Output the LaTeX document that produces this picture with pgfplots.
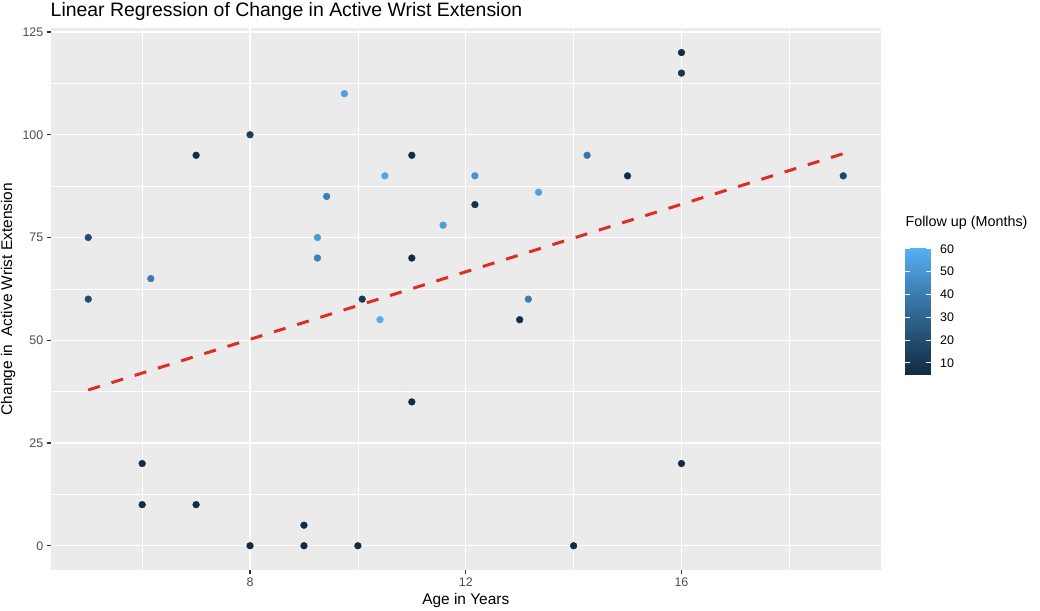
\documentclass[border=0pt]{standalone}
\usepackage{pgfplots}
\usepackage{pgfplotstable}
\pgfplotsset{compat=1.18}
\usepackage{fontspec}
\setmainfont{Liberation Sans}

\definecolor{panelbg}{RGB}{235,235,235}
\definecolor{tickgray}{RGB}{77,77,77}
\definecolor{tickmark}{RGB}{51,51,51}
\definecolor{regred}{RGB}{222,45,38}

\pgfplotsset{
  colormap={gg}{rgb255(0cm)=(19,43,67) rgb255(1cm)=(34,73,108) rgb255(2cm)=(51,106,152) rgb255(3cm)=(68,141,198) rgb255(4cm)=(86,177,247)},
}

\pgfplotstableread{
x y f
5 75 20
5 60 20
6.16 65 40
7 95 5
8 100 13
9.75 110 54
10.5 90 56
9.42 85 41
9.25 75 52
9.25 70 42
11 95 5
11 70 5
12.17 90 50
12.17 83 8
11.58 78 53
10.08 60 11
10.41 55 59
6 20 5
6 10 5
7 10 5
8 0 5
9 5 5
9 0 5
10 0 5
11 35 5
13 55 6
13.16 60 40
13.35 86 54
14.25 95 37
15 90 5
14 0 5
16 20 6
16 120 5
16 115 10
19 90 18
}\datatable

\pgfplotstableread{
x y
5 37.9
19 95.4
}\regline

\begin{document}
\begin{tikzpicture}
\useasboundingbox (0,0) rectangle (1040bp,611bp);
\begin{axis}[
  at={(50.5bp,40.6bp)}, anchor=south west,
  scale only axis, width=830.5bp, height=542.5bp,
  xmin=4.3, xmax=19.7, ymin=-6, ymax=126,
  xtick={8,12,16}, ytick={0,25,50,75,100,125},
  minor xtick={6,10,14,18}, minor ytick={12.5,37.5,62.5,87.5,112.5},
  grid=both,
  major grid style={white, line width=1.2bp},
  minor grid style={white, line width=0.6bp},
  axis background/.style={fill=panelbg},
  axis line style={draw=none},
  tick align=outside, major tick length=4bp, minor tick length=0pt,
  xtick pos=left, ytick pos=left,
  tick style={color=tickmark, line width=1.1bp},
  /pgf/number format/assume math mode=true,
  tick label style={font=\fontsize{12.5}{14}\selectfont, text=tickgray, inner sep=3bp},
  title={Linear Regression of Change in Active Wrist Extension},
  every axis title/.style={at={(axis description cs:0,1.0219)}, anchor=base west, inner sep=0pt, font=\fontsize{19.5}{22}\selectfont},
  xlabel={Age in Years},
  every axis x label/.style={at={(axis description cs:0.5,-0.0634)}, anchor=base, inner sep=0pt, font=\fontsize{15.5}{18}\selectfont},
  ylabel={Change in\ \ Active Wrist Extension},
  every axis y label/.style={at={(axis description cs:-0.04636,0.5)}, rotate=90, anchor=base, inner sep=0pt, font=\fontsize{15.5}{18}\selectfont},
  colormap name=gg,
  point meta min=5, point meta max=60.5,
]
\addplot[scatter, only marks, mark=*, mark size=3.4bp, scatter src=explicit,
  scatter/use mapped color={draw=mapped color, fill=mapped color}]
  table[x=x, y=y, meta=f]{\datatable};
\addplot[regred, line width=3bp, dash pattern=on 12.16bp off 12.16bp, line cap=butt]
  table[x=x, y=y]{\regline};
\end{axis}

% colour bar (legend)
\begin{axis}[
  at={(905.3bp,236.7bp)}, anchor=south west,
  scale only axis, width=25.4bp, height=126.6bp,
  xmin=0, xmax=1, ymin=5, ymax=60.5,
  axis line style={draw=none},
  xtick=\empty, ytick={10,20,30,40,50,60},
  ytick pos=both, yticklabel pos=right,
  tick align=inside, major tick length=5bp,
  tick style={white, line width=0.8bp},
  axis on top,
  /pgf/number format/assume math mode=true,
  yticklabel style={font=\fontsize{12.5}{14}\selectfont, text=black, anchor=west, inner sep=0pt, xshift=9.3bp},
  title={Follow up (Months)},
  every axis title/.style={at={(axis description cs:0,1.1659)}, anchor=base west, inner sep=0pt, font=\fontsize{14.4}{17}\selectfont},
  colormap name=gg,
  point meta min=5, point meta max=60.5,
]
\addplot[surf, shader=interp, point meta=y, mesh/rows=13, mesh/cols=2] coordinates {
(0,5) (1,5)
(0,10) (1,10)
(0,15) (1,15)
(0,20) (1,20)
(0,25) (1,25)
(0,30) (1,30)
(0,35) (1,35)
(0,40) (1,40)
(0,45) (1,45)
(0,50) (1,50)
(0,55) (1,55)
(0,60) (1,60)
(0,60.5) (1,60.5)
};
\end{axis}
\end{tikzpicture}
\end{document}
